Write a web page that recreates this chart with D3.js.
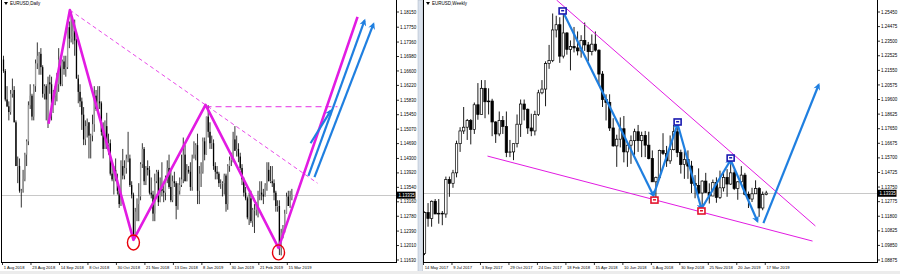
<!DOCTYPE html>
<html>
<head>
    <title>EURUSD Daily and Weekly</title>
    <script src="https://d3js.org/d3.v7.min.js"></script>
    <style>
        body { margin: 0; background: #fff; }
        text { font-family: "Liberation Sans", Arial, sans-serif; font-size: 4.5px; fill: #000; }
        text.date { font-size: 4.1px; }
    </style>
</head>
<body>
    <div id="chart"></div>
    <script>
        // ---- EURUSD Daily (1 Aug 2018 .. 18 Mar 2019) ----
        var dOpen = [
            1.1690,1.1660,1.1585,1.1567,1.1552,1.1600,1.1610,1.1525,1.1410,1.1410,
            1.1345,1.1345,1.1375,1.1440,1.1475,1.1570,1.1595,1.1540,1.1620,1.1680,
            1.1700,1.1705,1.1670,1.1600,1.1620,1.1585,1.1630,1.1625,1.1550,1.1595,
            1.1600,1.1625,1.1690,1.1625,1.1685,1.1665,1.1670,1.1775,1.1745,1.1750,
            1.1765,1.1740,1.1640,1.1605,1.1580,1.1545,1.1480,1.1515,1.1525,1.1490,
            1.1490,1.1520,1.1595,1.1560,1.1580,1.1575,1.1500,1.1455,1.1515,1.1465,
            1.1470,1.1390,1.1375,1.1400,1.1375,1.1345,1.1310,1.1410,1.1385,1.1405,
            1.1430,1.1430,1.1360,1.1335,1.1225,1.1290,1.1310,1.1330,1.1415,1.1455,
            1.1370,1.1405,1.1400,1.1340,1.1335,1.1285,1.1370,1.1395,1.1315,1.1350,
            1.1345,1.1340,1.1375,1.1405,1.1355,1.1320,1.1370,1.1365,1.1305,1.1345,
            1.1360,1.1375,1.1440,1.1370,1.1400,1.1395,1.1355,1.1430,1.1440,1.1465,
            1.1345,1.1390,1.1395,1.1475,1.1440,1.1540,1.1500,1.1470,1.1470,1.1410,
            1.1395,1.1390,1.1365,1.1365,1.1365,1.1385,1.1310,1.1410,1.1425,1.1430,
            1.1480,1.1450,1.1455,1.1435,1.1405,1.1375,1.1340,1.1325,1.1275,1.1325,
            1.1265,1.1295,1.1295,1.1310,1.1340,1.1340,1.1335,1.1330,1.1360,1.1400,
            1.1370,1.1370,1.1365,1.1340,1.1305,1.1305,1.1195,1.1235,1.1245,1.1285,
            1.1330,1.1305,1.1325];
        var dHigh = [
            1.1700,1.1665,1.1620,1.1580,1.1610,1.1640,1.1620,1.1530,1.1435,1.1430,
            1.1350,1.1400,1.1445,1.1480,1.1580,1.1625,1.1600,1.1625,1.1690,1.1735,
            1.1710,1.1720,1.1675,1.1625,1.1625,1.1645,1.1650,1.1645,1.1610,1.1620,
            1.1655,1.1720,1.1700,1.1690,1.1700,1.1700,1.1790,1.1790,1.1815,1.1790,
            1.1795,1.1745,1.1650,1.1625,1.1590,1.1565,1.1530,1.1535,1.1525,1.1495,
            1.1545,1.1620,1.1610,1.1620,1.1620,1.1580,1.1525,1.1530,1.1550,1.1495,
            1.1480,1.1420,1.1410,1.1430,1.1390,1.1355,1.1425,1.1455,1.1425,1.1440,
            1.1500,1.1440,1.1370,1.1340,1.1300,1.1325,1.1365,1.1420,1.1470,1.1460,
            1.1410,1.1425,1.1410,1.1380,1.1345,1.1390,1.1400,1.1400,1.1380,1.1420,
            1.1365,1.1385,1.1425,1.1440,1.1400,1.1385,1.1395,1.1370,1.1365,1.1380,
            1.1440,1.1485,1.1465,1.1415,1.1410,1.1420,1.1440,1.1475,1.1470,1.1495,
            1.1410,1.1420,1.1485,1.1485,1.1540,1.1570,1.1525,1.1490,1.1480,1.1420,
            1.1410,1.1395,1.1375,1.1370,1.1390,1.1390,1.1415,1.1435,1.1445,1.1500,
            1.1515,1.1490,1.1470,1.1445,1.1415,1.1380,1.1355,1.1330,1.1340,1.1345,
            1.1300,1.1310,1.1315,1.1345,1.1370,1.1370,1.1350,1.1365,1.1420,1.1420,
            1.1410,1.1410,1.1375,1.1345,1.1320,1.1320,1.1245,1.1255,1.1295,1.1340,
            1.1345,1.1345,1.1350];
        var dLow = [
            1.1655,1.1580,1.1565,1.1530,1.1545,1.1590,1.1525,1.1410,1.1365,1.1340,
            1.1301,1.1340,1.1370,1.1410,1.1465,1.1560,1.1530,1.1530,1.1605,1.1665,
            1.1650,1.1650,1.1590,1.1585,1.1530,1.1510,1.1600,1.1530,1.1550,1.1570,
            1.1580,1.1605,1.1620,1.1620,1.1650,1.1645,1.1665,1.1720,1.1735,1.1730,
            1.1700,1.1640,1.1575,1.1565,1.1505,1.1465,1.1465,1.1485,1.1430,1.1430,
            1.1475,1.1500,1.1555,1.1555,1.1560,1.1490,1.1430,1.1455,1.1455,1.1440,
            1.1385,1.1370,1.1335,1.1370,1.1335,1.1300,1.1305,1.1375,1.1375,1.1390,
            1.1420,1.1355,1.1325,1.1216,1.1220,1.1265,1.1265,1.1320,1.1405,1.1360,
            1.1360,1.1385,1.1335,1.1325,1.1265,1.1265,1.1365,1.1305,1.1315,1.1330,
            1.1315,1.1320,1.1365,1.1350,1.1315,1.1315,1.1355,1.1270,1.1295,1.1335,
            1.1355,1.1365,1.1370,1.1370,1.1390,1.1345,1.1345,1.1430,1.1425,1.1310,
            1.1310,1.1355,1.1390,1.1425,1.1440,1.1485,1.1455,1.1455,1.1400,1.1375,
            1.1375,1.1355,1.1350,1.1330,1.1335,1.1290,1.1295,1.1395,1.1410,1.1420,
            1.1450,1.1435,1.1420,1.1400,1.1360,1.1330,1.1320,1.1270,1.1255,1.1260,
            1.1250,1.1234,1.1280,1.1275,1.1320,1.1320,1.1310,1.1330,1.1345,1.1370,
            1.1365,1.1355,1.1320,1.1290,1.1290,1.1176,1.1175,1.1220,1.1235,1.1285,
            1.1305,1.1300,1.1320];
        var dClose = [
            1.1660,1.1585,1.1567,1.1552,1.1600,1.1610,1.1525,1.1410,1.1410,1.1345,
            1.1345,1.1375,1.1440,1.1475,1.1570,1.1595,1.1540,1.1620,1.1680,1.1700,
            1.1705,1.1670,1.1600,1.1620,1.1585,1.1630,1.1625,1.1550,1.1595,1.1600,
            1.1625,1.1690,1.1625,1.1685,1.1665,1.1670,1.1775,1.1745,1.1750,1.1765,
            1.1740,1.1640,1.1605,1.1580,1.1545,1.1480,1.1515,1.1525,1.1490,1.1490,
            1.1520,1.1595,1.1560,1.1580,1.1575,1.1500,1.1455,1.1515,1.1465,1.1470,
            1.1390,1.1375,1.1400,1.1375,1.1345,1.1310,1.1410,1.1385,1.1405,1.1430,
            1.1430,1.1360,1.1335,1.1225,1.1290,1.1310,1.1330,1.1415,1.1455,1.1370,
            1.1405,1.1400,1.1340,1.1335,1.1285,1.1370,1.1395,1.1315,1.1350,1.1345,
            1.1340,1.1375,1.1405,1.1355,1.1320,1.1370,1.1365,1.1305,1.1345,1.1360,
            1.1375,1.1440,1.1370,1.1400,1.1395,1.1355,1.1430,1.1440,1.1465,1.1345,
            1.1390,1.1395,1.1475,1.1440,1.1540,1.1500,1.1470,1.1470,1.1410,1.1395,
            1.1390,1.1365,1.1365,1.1365,1.1385,1.1310,1.1410,1.1425,1.1430,1.1480,
            1.1450,1.1455,1.1435,1.1405,1.1375,1.1340,1.1325,1.1275,1.1325,1.1265,
            1.1295,1.1295,1.1310,1.1340,1.1340,1.1335,1.1330,1.1360,1.1400,1.1370,
            1.1370,1.1365,1.1340,1.1305,1.1305,1.1195,1.1235,1.1245,1.1285,1.1330,
            1.1305,1.1325,1.1335];
        var dDateLabels = ["1 Aug 2018","23 Aug 2018","14 Sep 2018","8 Oct 2018","30 Oct 2018",
            "21 Nov 2018","13 Dec 2018","8 Jan 2019","30 Jan 2019","21 Feb 2019","15 Mar 2019"];
        var dPriceTicks = [1.18150,1.17750,1.17360,1.16980,1.16600,1.16220,1.15830,1.15450,1.15070,
            1.14690,1.14300,1.13920,1.13540,1.13160,1.12780,1.12390,1.12010,1.11630];

        // ---- EURUSD Weekly (14 May 2017 .. 17 Mar 2019) ----
        var wOpen = [
            1.0930,1.1205,1.1165,1.1280,1.1195,1.1200,1.1195,1.1425,1.1400,1.1470,
            1.1665,1.1750,1.1775,1.1820,1.1760,1.1925,1.1860,1.2035,1.1945,1.1950,
            1.1810,1.1730,1.1820,1.1780,1.1605,1.1610,1.1665,1.1795,1.1930,1.1895,
            1.1770,1.1750,1.1860,1.2005,1.2030,1.2200,1.2220,1.2425,1.2460,1.2250,
            1.2405,1.2295,1.2315,1.2305,1.2285,1.2355,1.2325,1.2280,1.2330,1.2290,
            1.2130,1.1960,1.1940,1.1770,1.1650,1.1695,1.1765,1.1610,1.1655,1.1685,
            1.1745,1.1685,1.1720,1.1655,1.1565,1.1410,1.1440,1.1620,1.1600,1.1550,
            1.1625,1.1745,1.1605,1.1525,1.1560,1.1515,1.1400,1.1385,1.1335,1.1415,
            1.1340,1.1315,1.1405,1.1305,1.1370,1.1440,1.1395,1.1470,1.1365,1.1410,
            1.1455,1.1325,1.1295,1.1330,1.1365,1.1235,1.1325];
        var wHigh = [
            1.1212,1.1268,1.1285,1.1295,1.1295,1.1215,1.1445,1.1445,1.1490,1.1685,
            1.1775,1.1910,1.1830,1.1830,1.1940,1.2070,1.2090,1.2090,1.2035,1.1965,
            1.1815,1.1880,1.1850,1.1880,1.1690,1.1665,1.1860,1.1960,1.1960,1.1900,
            1.1865,1.1885,1.2025,1.2090,1.2215,1.2325,1.2535,1.2520,1.2510,1.2555,
            1.2410,1.2355,1.2445,1.2415,1.2390,1.2475,1.2345,1.2395,1.2415,1.2295,
            1.2150,1.1995,1.1995,1.1835,1.1725,1.1840,1.1850,1.1660,1.1720,1.1765,
            1.1790,1.1745,1.1750,1.1745,1.1620,1.1445,1.1625,1.1735,1.1650,1.1720,
            1.1790,1.1815,1.1625,1.1620,1.1620,1.1550,1.1455,1.1500,1.1420,1.1470,
            1.1400,1.1425,1.1440,1.1485,1.1475,1.1495,1.1570,1.1490,1.1415,1.1515,
            1.1470,1.1345,1.1370,1.1420,1.1375,1.1345,1.1350];
        var wLow = [
            1.0920,1.1110,1.1110,1.1195,1.1130,1.1120,1.1170,1.1310,1.1370,1.1440,
            1.1610,1.1730,1.1690,1.1660,1.1730,1.1825,1.1860,1.1835,1.1860,1.1715,
            1.1670,1.1715,1.1730,1.1575,1.1575,1.1555,1.1640,1.1710,1.1820,1.1730,
            1.1715,1.1720,1.1850,1.1995,1.1915,1.2165,1.2210,1.2375,1.2205,1.2235,
            1.2260,1.2155,1.2275,1.2255,1.2240,1.2285,1.2215,1.2255,1.2280,1.2055,
            1.1910,1.1820,1.1750,1.1645,1.1510,1.1640,1.1540,1.1510,1.1530,1.1590,
            1.1610,1.1575,1.1575,1.1560,1.1410,1.1300,1.1430,1.1590,1.1510,1.1530,
            1.1620,1.1575,1.1465,1.1430,1.1430,1.1335,1.1300,1.1325,1.1215,1.1335,
            1.1265,1.1315,1.1270,1.1295,1.1345,1.1310,1.1390,1.1355,1.1290,1.1395,
            1.1320,1.1235,1.1275,1.1330,1.1176,1.1220,1.1320];
        var wClose = [
            1.1205,1.1165,1.1280,1.1195,1.1200,1.1195,1.1425,1.1400,1.1470,1.1665,
            1.1750,1.1775,1.1820,1.1760,1.1925,1.1860,1.2035,1.1945,1.1950,1.1810,
            1.1730,1.1820,1.1780,1.1605,1.1610,1.1665,1.1795,1.1930,1.1895,1.1770,
            1.1750,1.1860,1.2005,1.2030,1.2200,1.2220,1.2425,1.2460,1.2250,1.2405,
            1.2295,1.2315,1.2305,1.2285,1.2355,1.2325,1.2280,1.2330,1.2290,1.2130,
            1.1960,1.1940,1.1770,1.1650,1.1695,1.1765,1.1610,1.1655,1.1685,1.1745,
            1.1685,1.1720,1.1655,1.1565,1.1410,1.1440,1.1620,1.1600,1.1550,1.1625,
            1.1745,1.1605,1.1525,1.1560,1.1515,1.1400,1.1385,1.1335,1.1415,1.1340,
            1.1315,1.1405,1.1305,1.1370,1.1440,1.1395,1.1470,1.1365,1.1410,1.1455,
            1.1325,1.1295,1.1330,1.1365,1.1235,1.1325,1.1335];
        var wDateLabels = ["14 May 2017","9 Jul 2017","3 Sep 2017","29 Oct 2017","24 Dec 2017",
            "18 Feb 2018","15 Apr 2018","10 Jun 2018","5 Aug 2018","30 Sep 2018","25 Nov 2018",
            "20 Jan 2019","17 Mar 2019"];
        var wPriceTicks = [1.25450,1.24475,1.23500,1.22525,1.21550,1.20575,1.19600,1.18625,1.17650,
            1.16675,1.15700,1.14725,1.13750,1.12775,1.11800,1.10825,1.09850,1.08875];

        var currentPrice = 1.13335;

        // drawn objects, as [bar index, price]
        var dZigzag = [[25.3,1.1521],[37.3,1.1820],[73,1.1216],[113.5,1.1571],[154.5,1.1195],[198.9,1.1802]];
        var dTrendDashed = [[37.3,1.1820],[176.4,1.1365]];
        var dLevelDashed = [[113.5,1.1566],[187.6,1.1566]];
        var dCircles = [[73,1.1209],[154.5,1.1183]];
        var dArrows = [
            [[172.5,1.1470],[183.8,1.1555]],
            [[171.3,1.1384],[202.8,1.1792]],
            [[174.7,1.1381],[207.8,1.1783]]];
        var wZigzag = [[38.8,1.2552],[64.3,1.1318],[71.1,1.1796],[77.8,1.1230],[86.0,1.1556],[93.5,1.1148]];
        var wArrow = [[95.2,1.1134],[110.7,1.2057]];
        var wUpperLine = [[37.1,1.2625],[109.8,1.1115]];
        var wLowerLine = [[17.7,1.1582],[109.0,1.1014]];
        var wHighBoxes = [[38.8,1.2552],[71.1,1.1810],[86.0,1.1569]];
        var wLowBoxes = [[64.6,1.1288],[77.8,1.1215]];

        var svgWidth = 900;
        var svgHeight = 274;
        var plotBottom = 262;
        var magenta = "#e21be2";
        var blue = "#1f7fe0";

        var svg = d3.select("#chart")
            .append("svg")
            .attr("width", svgWidth)
            .attr("height", svgHeight);

        svg.append("rect").attr("width", svgWidth).attr("height", svgHeight).attr("fill", "#fff");

        var defs = svg.append("defs");
        defs.append("marker")
            .attr("id", "headBlue")
            .attr("viewBox", "0 0 10 10")
            .attr("refX", 7).attr("refY", 5)
            .attr("markerWidth", 8).attr("markerHeight", 7)
            .attr("markerUnits", "userSpaceOnUse")
            .attr("orient", "auto")
            .append("path").attr("d", "M0,0L10,5L0,10L3,5Z").attr("fill", blue);

        function candleChart(opts) {
            var g = svg.append("g");
            var n = opts.open.length;
            var x = d3.scaleLinear().domain([0, 1]).range([opts.x0, opts.x0 + opts.step]);
            var y = d3.scaleLinear().domain([opts.ticks[opts.ticks.length - 1], opts.ticks[0]]).range([260, 12]);

            g.append("clipPath").attr("id", opts.id + "clip")
                .append("rect")
                .attr("x", opts.left).attr("y", 0)
                .attr("width", opts.right - opts.left).attr("height", plotBottom);

            var plot = g.append("g").attr("clip-path", "url(#" + opts.id + "clip)");

            // current price line
            plot.append("line")
                .attr("x1", opts.left).attr("x2", opts.right)
                .attr("y1", Math.round(y(currentPrice)) + 0.5).attr("y2", Math.round(y(currentPrice)) + 0.5)
                .attr("stroke", "#c8c8c8").attr("stroke-width", 1);

            var bars = d3.range(n).map(function(i) {
                return { i: i, o: opts.open[i], h: opts.high[i], l: opts.low[i], c: opts.close[i] };
            });

            var candle = plot.selectAll(".c" + opts.id)
                .data(bars)
                .enter()
                .append("g");

            candle.append("line")
                .attr("x1", function(d) { return x(d.i); })
                .attr("x2", function(d) { return x(d.i); })
                .attr("y1", function(d) { return y(d.h); })
                .attr("y2", function(d) { return y(d.l); })
                .attr("stroke", "#000")
                .attr("stroke-width", opts.wick);

            candle.append("rect")
                .attr("x", function(d) { return x(d.i) - opts.body / 2; })
                .attr("y", function(d) { return y(Math.max(d.o, d.c)); })
                .attr("width", opts.body)
                .attr("height", function(d) { return Math.max(0.6, Math.abs(y(d.o) - y(d.c))); })
                .attr("fill", function(d) { return d.c >= d.o ? opts.bullFill : "#000"; })
                .attr("stroke", opts.bullStroke ? "#000" : "none")
                .attr("stroke-width", opts.bullStroke || 0);

            // frame
            g.append("line").attr("x1", opts.left + 0.5).attr("x2", opts.left + 0.5)
                .attr("y1", 0).attr("y2", plotBottom).attr("stroke", "#000");
            g.append("line").attr("x1", opts.left).attr("x2", opts.right + 0.5)
                .attr("y1", plotBottom + 0.5).attr("y2", plotBottom + 0.5).attr("stroke", "#000");
            g.append("line").attr("x1", opts.right + 0.5).attr("x2", opts.right + 0.5)
                .attr("y1", 0).attr("y2", plotBottom + 1).attr("stroke", "#000");

            // price scale
            var pt = g.selectAll(".pt" + opts.id).data(opts.ticks).enter().append("g")
                .attr("transform", function(d) { return "translate(" + opts.right + "," + y(d) + ")"; });
            pt.append("line").attr("x1", 0).attr("x2", 3).attr("stroke", "#000").attr("stroke-width", 0.8);
            pt.append("text").attr("x", 4).attr("dy", "0.35em")
                .text(function(d) { return d.toFixed(5); });

            var cy = y(currentPrice);
            g.append("rect").attr("x", opts.right + 0.5).attr("y", cy - 3.5)
                .attr("width", 19).attr("height", 7).attr("fill", "#000");
            g.append("text").attr("x", opts.right + 2.5).attr("y", cy).attr("dy", "0.35em")
                .style("fill", "#fff").text(currentPrice.toFixed(5));

            // time scale
            var tt = g.selectAll(".tt" + opts.id).data(opts.dates).enter().append("g")
                .attr("transform", function(d, k) { return "translate(" + (x(k * opts.every) - 1) + "," + plotBottom + ")"; });
            tt.append("line").attr("y1", 0).attr("y2", 3).attr("stroke", "#000").attr("stroke-width", 0.8);
            tt.append("text").attr("class", "date").attr("x", 1.2).attr("y", 5.5).attr("dy", "0.35em")
                .text(function(d) { return d; });

            // title
            g.append("path")
                .attr("d", "M" + (opts.left + 3) + ",2L" + (opts.left + 7) + ",2L" + (opts.left + 5) + ",5Z")
                .attr("fill", "#000");
            g.append("text").attr("x", opts.left + 9).attr("y", 3.5).attr("dy", "0.35em").text(opts.title);

            return { x: x, y: y, plot: plot };
        }

        var left = candleChart({
            id: "d", open: dOpen, high: dHigh, low: dLow, close: dClose,
            ticks: dPriceTicks, dates: dDateLabels, every: 16,
            x0: 3.5, step: 1.78, left: 1, right: 396,
            wick: 0.8, body: 1.3, bullFill: "#9a9a9a", bullStroke: 0,
            title: "EURUSD,Daily"
        });

        var right = candleChart({
            id: "w", open: wOpen, high: wHigh, low: wLow, close: wClose,
            ticks: wPriceTicks, dates: wDateLabels, every: 8,
            x0: 424.5, step: 3.56, left: 423, right: 877,
            wick: 0.9, body: 2.4, bullFill: "#fff", bullStroke: 0.7,
            title: "EURUSD,Weekly"
        });

        function pathOf(chart) {
            return d3.line()
                .x(function(d) { return chart.x(d[0]); })
                .y(function(d) { return chart.y(d[1]); });
        }

        // ---- left chart drawings ----
        var lp = pathOf(left);
        left.plot.append("path").attr("d", lp(dTrendDashed))
            .attr("fill", "none").attr("stroke", magenta).attr("stroke-width", 0.8)
            .attr("stroke-dasharray", "4,3");
        left.plot.append("path").attr("d", lp(dLevelDashed))
            .attr("fill", "none").attr("stroke", magenta).attr("stroke-width", 0.9)
            .attr("stroke-dasharray", "6,4");
        left.plot.append("path").attr("d", lp(dZigzag))
            .attr("fill", "none").attr("stroke", magenta).attr("stroke-width", 2.6)
            .attr("stroke-linejoin", "round");
        left.plot.selectAll(".ring").data(dCircles).enter().append("ellipse")
            .attr("cx", function(d) { return left.x(d[0]); })
            .attr("cy", function(d) { return left.y(d[1]); })
            .attr("rx", 6).attr("ry", 7.5)
            .attr("fill", "none").attr("stroke", "#e8000b").attr("stroke-width", 1.4);
        left.plot.selectAll(".arr").data(dArrows).enter().append("path")
            .attr("d", function(d) { return lp(d); })
            .attr("fill", "none").attr("stroke", blue).attr("stroke-width", 2.2)
            .attr("marker-end", "url(#headBlue)");

        // ---- right chart drawings ----
        var rp = pathOf(right);
        right.plot.append("path").attr("d", rp(wUpperLine))
            .attr("fill", "none").attr("stroke", magenta).attr("stroke-width", 1);
        right.plot.append("path").attr("d", rp(wLowerLine))
            .attr("fill", "none").attr("stroke", magenta).attr("stroke-width", 1);
        var segs = d3.range(wZigzag.length - 1).map(function(k) { return [wZigzag[k], wZigzag[k + 1]]; });
        segs.push(wArrow);
        right.plot.selectAll(".seg").data(segs).enter().append("path")
            .attr("d", function(d) { return rp(d); })
            .attr("fill", "none").attr("stroke", blue).attr("stroke-width", 2.2)
            .attr("marker-end", "url(#headBlue)");

        function boxes(data, color) {
            var b = right.plot.selectAll(null).data(data).enter().append("g")
                .attr("transform", function(d) { return "translate(" + right.x(d[0]) + "," + right.y(d[1]) + ")"; });
            b.append("rect").attr("x", -3.5).attr("y", -3).attr("width", 7).attr("height", 6)
                .attr("fill", "#fff").attr("stroke", color).attr("stroke-width", 1.6);
            b.append("rect").attr("x", -1.5).attr("y", -1).attr("width", 3).attr("height", 1.5)
                .attr("fill", color);
        }
        boxes(wHighBoxes, "#1a1ab0");
        boxes(wLowBoxes, "#e3142c");

        // window parts between and below the charts
        svg.append("rect").attr("x", 418).attr("y", 0).attr("width", 4.5).attr("height", svgHeight)
            .attr("fill", "#d9e1ec").attr("stroke", "#a9b3c1").attr("stroke-width", 0.5);
        svg.append("rect").attr("x", 0).attr("y", 271).attr("width", svgWidth).attr("height", 3)
            .attr("fill", "#ececec");
    </script>
</body>
</html>
